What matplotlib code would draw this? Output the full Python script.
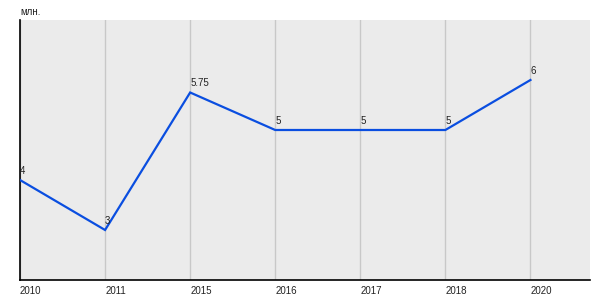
import matplotlib
matplotlib.use("Agg")
import matplotlib.pyplot as plt

years = ["2010", "2011", "2015", "2016", "2017", "2018", "2020"]
values = [4, 3, 5.75, 5, 5, 5, 6]
value_labels = ["4", "3", "5.75", "5", "5", "5", "6"]
unit_label = "млн."

plt.rcParams['font.family'] = ['Liberation Sans', 'DejaVu Sans']

fig = plt.figure(figsize=(6, 3), dpi=100)
ax = fig.add_axes([20/600, 20/300, 570/600, 260/300])
ax.set_facecolor('#ebebeb')
x = list(range(len(years)))
ax.plot(x, values, color='#0a4ee0', lw=1.6, solid_joinstyle='miter', zorder=3)
for xi, v, lab in zip(x, values, value_labels):
    ax.annotate(lab, (xi, v), xytext=(0, 3), textcoords='offset points',
                ha='left', va='bottom', fontsize=7, color='#222222')
ax.set_xlim(0, 6.7)
ax.set_ylim(2, 7.2)
ax.set_xticks(x)
ax.set_xticklabels(years, ha='left', fontsize=7, color='#222222')
ax.set_yticks([])
ax.tick_params(axis='x', length=0, pad=4)
ax.grid(axis='x', color='#c8c8c8', lw=1)
ax.set_axisbelow(True)
for s in ['top', 'right']:
    ax.spines[s].set_visible(False)
for s in ['left', 'bottom']:
    ax.spines[s].set_color('black')
    ax.spines[s].set_linewidth(1.2)
fig.text(20/600, 1 - 12/300, unit_label, ha='left', va='center', fontsize=7, color='#222222')
fig.savefig('out.png', dpi=100)
